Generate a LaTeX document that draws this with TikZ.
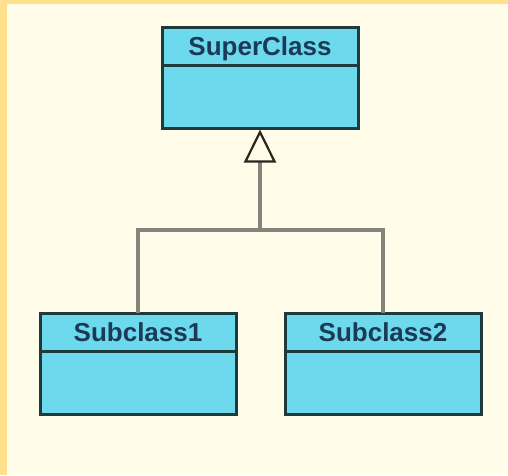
\documentclass[tikz,border=0pt]{standalone}
\usepackage{fontspec}
\setmainfont{Liberation Sans}
\usetikzlibrary{arrows.meta,positioning}
\definecolor{pagecream}{HTML}{FFFDE9}
\definecolor{pageedge}{HTML}{FFE08C}
\definecolor{classfill}{HTML}{6DD9EC}
\definecolor{classline}{HTML}{1F3A3F}
\definecolor{classtext}{HTML}{1B3A55}
\definecolor{linkgray}{HTML}{85847A}
\definecolor{tipline}{HTML}{2A2420}

\begin{document}
\begin{tikzpicture}[
  x=1pt, y=-1pt,
  classhead/.style={rectangle, draw=classline, fill=classfill, line width=3pt,
    minimum width=196pt, minimum height=38pt, inner sep=0pt, outer sep=0pt,
    text height=19pt, text depth=0pt,
    font=\fontsize{26}{30}\selectfont\bfseries\color{classtext}},
  classbody/.style={rectangle, draw=classline, fill=classfill, line width=3pt,
    minimum width=196pt, minimum height=63pt, inner sep=0pt, outer sep=0pt},
  link/.style={draw=linkgray, line width=3.5pt},
]
% Page: cream sheet with a yellow edge on top and left
\useasboundingbox (0,0) rectangle (508,475);
\fill[pagecream] (0,0) rectangle (508,475);
\fill[pageedge] (0,0) rectangle (508,4);
\fill[pageedge] (0,0) rectangle (7,475);

% Classes
\node[classhead] (super) at (260,46) {SuperClass};
\node[classbody, below=0pt of super] (superbody) {};
\node[classhead] (subone) at (138,332) {Subclass1};
\node[classbody, below=0pt of subone] (subonebody) {};
\node[classhead] (subtwo) at (383,332) {Subclass2};
\node[classbody, below=0pt of subtwo] (subtwobody) {};

% Generalisation tree
\coordinate (fork) at (superbody.south |- 0,230);
\draw[link] (subone.north) |- (fork) -| (subtwo.north);
\draw[link, -{Triangle[open, length=33pt, width=32pt, line width=2.2pt, color=tipline]}]
  (fork) -- ([yshift=-1.5pt]superbody.south);
\end{tikzpicture}
\end{document}
